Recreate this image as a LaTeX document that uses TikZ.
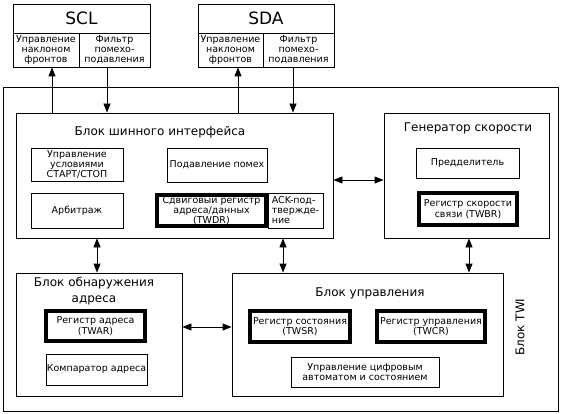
\documentclass[tikz,border=0pt]{standalone}
\usepackage{fontspec}
\setmainfont{DejaVu Sans}
\usetikzlibrary{arrows.meta}
\newcommand\blk[7]{\node[#2,minimum width={(#5-#3)*1pt},minimum height={(#6-#4)*1pt}] (#1) at ({(#3+#5)/2},{(#4+#6)/2}) {#7};}
\tikzset{
  thinbox/.style={draw, line width=0.8pt, inner sep=0pt, align=center, font=\fontsize{9.5}{10}\selectfont},
  thickbox/.style={draw, line width=3.6pt, inner sep=0pt, align=center, font=\fontsize{9.5}{10.5}\selectfont},
  bigbox/.style={draw, line width=0.8pt, inner sep=0pt},
  title/.style={inner sep=0pt, align=center, font=\fontsize{12}{16}\selectfont},
  conn/.style={line width=0.8pt, {Triangle[length=9pt,width=7pt]}-{Triangle[length=9pt,width=7pt]}},
  down/.style={line width=0.8pt, -{Triangle[length=9pt,width=7pt]}},
}
\begin{document}
\begin{tikzpicture}[x=1pt,y=-1pt]
\useasboundingbox (0,0) rectangle (567,414);
% pins
\blk{scl}{bigbox,font=\fontsize{17}{18}\selectfont}{13}{4}{150}{33}{SCL}
\blk{scla}{thinbox}{13}{33}{79}{67}{Управление\\наклоном\\фронтов}
\blk{sclb}{thinbox}{79}{33}{150}{67}{Фильтр\\помехо-\\подавления}
\blk{sda}{bigbox,font=\fontsize{17}{18}\selectfont}{198}{4}{334}{33}{SDA}
\blk{sdaa}{thinbox}{198}{33}{263}{67}{Управление\\наклоном\\фронтов}
\blk{sdab}{thinbox}{263}{33}{334}{67}{Фильтр\\помехо-\\подавления}
% TWI outer
\blk{twi}{bigbox}{3}{87}{558}{411}{}
\node[title, rotate=90] (twil) at (520,327) {Блок TWI};
% bus interface
\blk{bus}{bigbox}{16}{113}{333}{238}{}
\node[title] (bust) at (160,132) {Блок шинного интерфейса};
\blk{start}{thinbox}{31}{148}{123}{181}{Управление\\условиями\\СТАРТ/СТОП}
\blk{noise}{thinbox}{167}{148}{267}{182}{Подавление помех}
\blk{arb}{thinbox}{31}{193}{123}{228}{Арбитраж}
\blk{ack}{thinbox,align=left}{268}{193}{323}{228}{ACK-под-\\твержде-\\ние}
\blk{twdr}{thickbox,font=\fontsize{9.5}{10}\selectfont}{157}{195}{266}{226}{Сдвиговый регистр\\адреса/данных\\(TWDR)}
% generator
\blk{gen}{bigbox}{384}{113}{549}{238}{}
\node[title] (gent) at (468,128) {Генератор скорости};
\blk{presc}{thinbox}{416}{148}{519}{178}{Предделитель}
\blk{twbr}{thickbox}{419}{193}{517}{225}{Регистр скорости\\связи (TWBR)}
% address
\blk{addr}{bigbox}{16}{273}{182}{396}{}
\node[title] (addrt) at (94,291) {Блок обнаружения\\адреса};
\blk{twar}{thickbox}{46}{311}{145}{341}{Регистр адреса\\(TWAR)}
\blk{comp}{thinbox}{46}{354}{147}{385}{Компаратор адреса}
% control
\blk{ctrl}{bigbox}{232}{273}{503}{396}{}
\node[title] (ctrlt) at (370,293) {Блок управления};
\blk{twsr}{thickbox}{250}{311}{350}{342}{Регистр состояния\\(TWSR)}
\blk{twcr}{thickbox}{377}{311}{485}{342}{Регистр управления\\(TWCR)}
\blk{fsm}{thinbox}{291}{357}{439}{387}{Управление цифровым\\автоматом и состоянием}
% connectors
\coordinate (v1) at (52,0);
\coordinate (v2) at (107,0);
\coordinate (v3) at (238,0);
\coordinate (v4) at (293,0);
\coordinate (v5) at (97,0);
\coordinate (v6) at (283,0);
\coordinate (v7) at (469,0);
\coordinate (h1) at (0,180);
\coordinate (h2) at (0,327);
\draw[down] (bus.north -| v1) -- (scla.south -| v1);
\draw[down] (sclb.south -| v2) -- (bus.north -| v2);
\draw[down] (bus.north -| v3) -- (sdaa.south -| v3);
\draw[down] (sdab.south -| v4) -- (bus.north -| v4);
\draw[conn] (bus.east |- h1) -- (gen.west |- h1);
\draw[conn] (bus.south -| v5) -- (addr.north -| v5);
\draw[conn] (bus.south -| v6) -- (ctrl.north -| v6);
\draw[conn] (gen.south -| v7) -- (ctrl.north -| v7);
\draw[conn] (addr.east |- h2) -- (ctrl.west |- h2);
\end{tikzpicture}
\end{document}
